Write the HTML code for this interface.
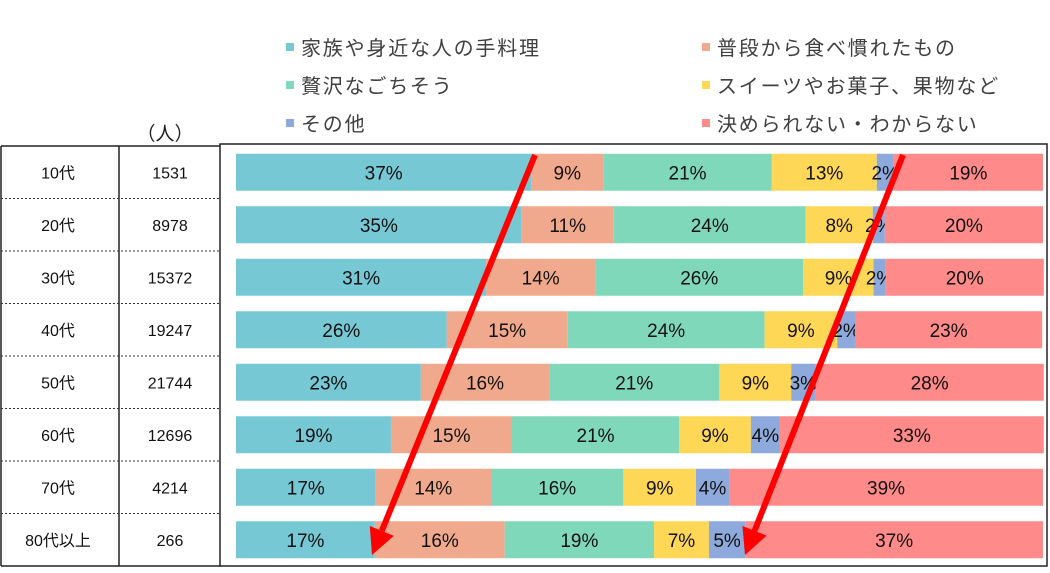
<!DOCTYPE html>
<html><head><meta charset="utf-8"><style>
body{margin:0;background:#fff;font-family:"Liberation Sans","Noto Sans CJK JP",sans-serif;}
svg text{font-family:"Liberation Sans","Noto Sans CJK JP",sans-serif;}
</style></head><body>
<svg id="c" width="1050" height="568" viewBox="0 0 1050 568">
<g id="legend"></g>
<text x="165" y="140" font-size="19" text-anchor="middle" fill="#222">（人）</text>
<rect x="220" y="144" width="827" height="422" fill="none" stroke="#222" stroke-width="1.5"/>
<g id="table"></g>
<g id="bars"></g>
<g id="arrows"></g>
</svg>
<script>
const categories=["10代","20代","30代","40代","50代","60代","70代","80代以上"];
const counts=["1531","8978","15372","19247","21744","12696","4214","266"];
const seriesNames=["家族や身近な人の手料理","普段から食べ慣れたもの","贅沢なごちそう","スイーツやお菓子、果物など","その他","決められない・わからない"];
const homeCooking=[36.6,35.4,31.0,26.1,22.9,19.2,17.3,17.2];
const familiar=[8.9,11.4,13.5,15.0,15.9,15.0,14.3,16.1];
const luxury=[20.9,23.8,25.8,24.4,21.1,20.7,16.4,18.5];
const sweets=[13.0,8.3,8.7,9.0,8.9,8.9,9.0,6.8];
const other=[2.1,1.5,1.5,2.2,3.0,3.6,4.1,4.5];
const undecided=[18.5,19.6,19.6,23.2,28.3,32.7,38.9,36.9];
const series=[homeCooking,familiar,luxury,sweets,other,undecided];
const colors=["#77C8D5","#F0A98C","#80D8BA","#FFD757","#8EA9DB","#FF8A8A"];
const NS="http://www.w3.org/2000/svg";
function mk(tag,attrs,parent){const e=document.createElementNS(NS,tag);for(const k in attrs)e.setAttribute(k,attrs[k]);parent.appendChild(e);return e;}
const x0=236,x1=1043,rowTop=146,rowH=52.5,barH=37;
const xs=v=>x0+(x1-x0)*v/100;
const yc=i=>rowTop+rowH*(i+0.5);
// legend
const lg=document.getElementById('legend');
seriesNames.forEach((n,i)=>{
 const lx=i%2?702:286, ly=48+38*Math.floor(i/2);
 const r=mk('rect',{x:lx,y:ly-5,width:8,height:8,fill:colors[i]},lg);
 
 
 const t=mk('text',{x:lx+15,y:ly+7,'font-size':20,'letter-spacing':1.8,fill:'#404040'},lg);
 t.textContent=n;
 
 
});
// table
const tb=document.getElementById('table');
const tl=mk('path',{d:'M1 146 H220 M1 146 V566 M119 146 V566 M1 566 H220',stroke:'#222','stroke-width':1.5,fill:'none'},tb);


categories.forEach((c,i)=>{
 if(i>0){const l=mk('line',{x1:1,x2:220,y1:rowTop+rowH*i,y2:rowTop+rowH*i,stroke:'#333','stroke-dasharray':'2,2'},tb);
 
 }
 const t=mk('text',{x:58,y:yc(i)+6,'font-size':16,'text-anchor':'middle',fill:'#111'},tb);
 t.textContent=c;
 
 
 const n=mk('text',{x:170,y:yc(i)+6,'font-size':16,'text-anchor':'middle',fill:'#111'},tb);
 n.textContent=counts[i];
 
 
});
// bars
const bg=document.getElementById('bars');
categories.forEach((c,i)=>{
 let acc=0;
 series.forEach((s,j)=>{
  const v=s[i];
  const r=mk('rect',{x:xs(acc),y:yc(i)-barH/2,width:xs(acc+v)-xs(acc),height:barH,fill:colors[j]},bg);
  
  
  const t=mk('text',{x:(xs(acc)+xs(acc+v))/2,y:yc(i)+7,'font-size':19,'text-anchor':'middle',fill:'#111'},bg);
  t.textContent=Math.round(v)+'%';
  
  
  acc+=v;
 });
});
// arrows
const ag=document.getElementById('arrows');
[[535,155,372,555],[903,155,745,555]].forEach(a=>{
 const [ax,ay,bx,by]=a;const ang=Math.atan2(by-ay,bx-ax);const L=26,W=13;
 const hx=bx-L*Math.cos(ang),hy=by-L*Math.sin(ang);
 const l=mk('line',{x1:ax,y1:ay,x2:hx,y2:hy,stroke:'#FF0000','stroke-width':6},ag);
 
 
 const px=-Math.sin(ang),py=Math.cos(ang);
 const p=mk('polygon',{points:`${bx},${by} ${hx+W*px},${hy+W*py} ${hx-W*px},${hy-W*py}`,fill:'#FF0000'},ag);
 
 
});
</script>
</body></html>
